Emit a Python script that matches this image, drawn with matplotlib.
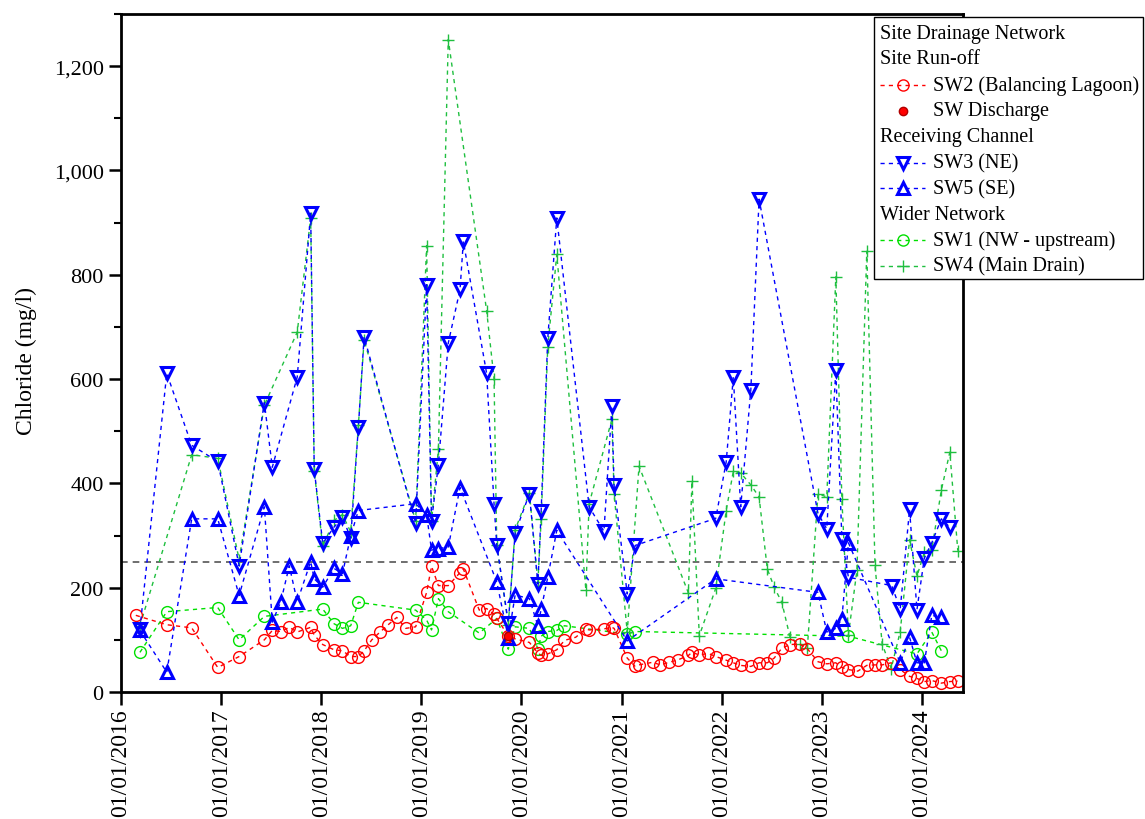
import matplotlib
matplotlib.use("Agg")
import matplotlib.pyplot as plt
import matplotlib.dates as mdates
import matplotlib.ticker as mticker
from matplotlib.lines import Line2D
from matplotlib.patches import Rectangle
import pandas as pd

plt.rcParams['font.family'] = ['Liberation Serif', 'DejaVu Serif']

# SW2 (Balancing Lagoon)
sw2_dates = ['2016-02-24', '2016-06-16', '2016-09-15', '2016-12-19', '2017-03-07', '2017-06-07',
             '2017-07-06', '2017-08-06', '2017-09-06', '2017-10-05', '2017-11-23', '2017-12-06',
             '2018-01-06', '2018-02-16', '2018-03-19', '2018-04-18', '2018-05-16', '2018-06-06',
             '2018-07-04', '2018-08-03', '2018-09-02', '2018-10-03', '2018-11-05', '2018-12-11',
             '2019-01-20', '2019-02-07', '2019-03-04', '2019-04-09', '2019-05-22', '2019-06-03',
             '2019-07-31', '2019-08-27', '2019-09-23', '2019-10-03', '2019-11-14', '2019-12-09',
             '2020-01-30', '2020-03-01', '2020-03-13', '2020-04-06', '2020-05-09', '2020-06-06',
             '2020-07-17', '2020-08-23', '2020-09-04', '2020-10-28', '2020-11-26', '2020-12-04',
             '2021-01-21', '2021-02-19', '2021-03-05', '2021-04-24', '2021-05-21', '2021-06-24',
             '2021-07-27', '2021-09-01', '2021-09-14', '2021-10-11', '2021-11-13', '2021-12-10',
             '2022-01-17', '2022-02-12', '2022-03-11', '2022-04-17', '2022-05-17', '2022-06-16',
             '2022-07-11', '2022-08-08', '2022-09-07', '2022-10-12', '2022-11-09', '2022-12-18',
             '2023-01-19', '2023-02-21', '2023-03-15', '2023-04-08', '2023-05-12', '2023-06-14',
             '2023-07-14', '2023-08-09', '2023-09-11', '2023-10-14', '2023-11-17', '2023-12-14',
             '2024-01-10', '2024-02-06', '2024-03-12', '2024-04-12', '2024-05-11']
sw2_vals = [147, 129, 123, 47, 68, 100,
            118, 116, 124, 115, 124, 109,
            91, 81, 79, 68, 68, 79,
            100, 115, 129, 143, 122, 125,
            191, 241, 204, 204, 229, 236,
            157, 160, 149, 141, 108, 102,
            95, 75, 70, 73, 81, 99,
            105, 121, 119, 121, 124, 122,
            65, 49, 52, 57, 52, 57,
            62, 70, 76, 71, 74, 68,
            61, 56, 51, 49, 56, 56,
            65, 84, 91, 92, 83, 58,
            54, 56, 47, 43, 40, 51,
            52, 52, 56, 43, 30, 26,
            20, 22, 17, 20, 21]

# SW Discharge
dis_dates = ['2019-11-14']
dis_vals = [108]

# SW3 (NE)
sw3_dates = ['2016-03-10', '2016-06-16', '2016-09-15', '2016-12-19', '2017-03-07', '2017-06-07',
             '2017-07-06', '2017-10-05', '2017-11-23', '2017-12-06', '2018-01-06', '2018-02-16',
             '2018-03-19', '2018-04-18', '2018-05-16', '2018-06-06', '2018-12-11', '2019-01-20',
             '2019-02-07', '2019-03-04', '2019-04-09', '2019-05-22', '2019-06-03', '2019-08-27',
             '2019-09-23', '2019-10-03', '2019-11-14', '2019-12-09', '2020-01-30', '2020-03-01',
             '2020-03-13', '2020-04-06', '2020-05-09', '2020-09-04', '2020-10-28', '2020-11-26',
             '2020-12-04', '2021-01-21', '2021-02-19', '2021-12-10', '2022-01-17', '2022-02-12',
             '2022-03-11', '2022-04-17', '2022-05-17', '2022-12-18', '2023-01-19', '2023-02-21',
             '2023-03-15', '2023-04-08', '2023-09-13', '2023-10-14', '2023-11-17', '2023-12-14',
             '2024-01-10', '2024-02-06', '2024-03-12', '2024-04-12']
sw3_vals = [121, 611, 473, 442, 242, 555,
            431, 604, 918, 427, 285, 316,
            335, 295, 508, 681, 324, 781,
            328, 436, 669, 772, 864, 611,
            361, 282, 133, 305, 380, 207,
            348, 678, 909, 355, 308, 548,
            396, 188, 281, 333, 441, 604,
            355, 580, 945, 342, 313, 617,
            294, 220, 204, 159, 350, 158,
            257, 286, 332, 316]

# SW5 (SE)
sw5_dates = ['2016-03-10', '2016-06-16', '2016-09-15', '2016-12-19', '2017-03-07', '2017-06-07',
             '2017-07-06', '2017-08-06', '2017-09-06', '2017-10-05', '2017-11-23', '2017-12-06',
             '2018-01-06', '2018-02-16', '2018-03-19', '2018-04-18', '2018-05-16', '2018-12-11',
             '2019-01-20', '2019-02-07', '2019-03-04', '2019-04-09', '2019-05-22', '2019-10-03',
             '2019-11-14', '2019-12-09', '2020-01-30', '2020-03-01', '2020-03-13', '2020-04-06',
             '2020-05-09', '2021-01-21', '2021-12-10', '2022-12-18', '2023-01-19', '2023-02-21',
             '2023-03-15', '2023-04-08', '2023-10-14', '2023-11-17', '2023-12-14', '2024-01-10',
             '2024-02-06', '2024-03-12']
sw5_vals = [118, 38, 332, 332, 185, 355,
            134, 173, 242, 173, 250, 217,
            201, 237, 227, 299, 348, 361,
            340, 272, 275, 278, 392, 211,
            104, 186, 179, 127, 159, 220,
            310, 98, 217, 191, 115, 122,
            140, 286, 56, 105, 56, 56,
            147, 143]

# SW1 (NW - upstream)
sw1_dates = ['2016-03-10', '2016-06-16', '2016-12-19', '2017-03-07', '2017-06-07', '2018-01-06',
             '2018-02-16', '2018-03-19', '2018-04-18', '2018-05-16', '2018-12-11', '2019-01-20',
             '2019-02-07', '2019-03-04', '2019-04-09', '2019-07-31', '2019-10-03', '2019-11-14',
             '2019-12-09', '2020-01-30', '2020-03-01', '2020-03-13', '2020-04-06', '2020-05-09',
             '2020-06-06', '2021-01-21', '2021-02-19', '2023-04-08', '2023-12-14', '2024-02-06',
             '2024-03-12']
sw1_vals = [76, 154, 162, 100, 145, 159,
            131, 122, 127, 172, 157, 138,
            119, 179, 154, 113, 141, 82,
            125, 122, 83, 107, 116, 118,
            127, 111, 116, 107, 73, 115,
            79]

# SW4 (Main Drain)
sw4_dates = ['2016-03-10', '2016-09-15', '2016-12-19', '2017-03-07', '2017-06-07', '2017-10-05',
             '2017-11-23', '2017-12-06', '2018-01-06', '2018-02-16', '2018-03-19', '2018-04-18',
             '2018-05-16', '2018-06-06', '2018-12-11', '2019-01-20', '2019-02-07', '2019-03-04',
             '2019-04-09', '2019-08-27', '2019-09-23', '2019-10-03', '2019-11-14', '2019-12-09',
             '2020-01-30', '2020-03-01', '2020-03-13', '2020-04-06', '2020-05-09', '2020-08-23',
             '2020-09-04', '2020-11-26', '2020-12-04', '2021-01-21', '2021-03-05', '2021-09-01',
             '2021-09-14', '2021-10-11', '2021-12-10', '2022-01-17', '2022-02-12', '2022-03-11',
             '2022-04-17', '2022-05-17', '2022-06-16', '2022-07-11', '2022-08-08', '2022-09-07',
             '2022-10-12', '2022-11-09', '2022-12-18', '2023-01-19', '2023-02-21', '2023-03-15',
             '2023-04-08', '2023-05-09', '2023-06-14', '2023-07-14', '2023-08-09', '2023-09-11',
             '2023-10-14', '2023-11-17', '2023-12-14', '2024-01-10', '2024-02-06', '2024-03-12',
             '2024-04-12', '2024-05-11']
sw4_vals = [127, 455, 448, 254, 550, 690,
            909, 424, 279, 329, 340, 307,
            511, 675, 328, 856, 328, 465,
            1251, 731, 601, 282, 129, 311,
            382, 210, 331, 662, 839, 196,
            361, 523, 380, 115, 433, 190,
            404, 108, 199, 348, 423, 420,
            397, 374, 236, 201, 172, 105,
            92, 84, 380, 374, 796, 371,
            110, 233, 845, 243, 92, 45,
            116, 292, 222, 268, 273, 387,
            460, 271]

guideline = 250
year_ticks = [f'{y}-01-01' for y in range(2016, 2025)]

RED = '#ff0000'
BLUE = '#0000ff'
GREEN1 = '#00e000'
GREEN4 = '#1fbf3f'

W, H = 1145, 820
fig = plt.figure(figsize=(W / 100, H / 100), dpi=100)
ax = fig.add_axes([121 / W, 1 - 693 / H, (963 - 121) / W, (693 - 15) / H])

dash = (0, (3, 3))
common = dict(linestyle=dash, linewidth=1.0)

ax.plot(pd.to_datetime(sw1_dates), sw1_vals, color=GREEN1, marker='o', ms=8.5,
        mfc='none', mec=GREEN1, mew=1.0, **common)
ax.plot(pd.to_datetime(sw4_dates), sw4_vals, color=GREEN4, marker='+', ms=8,
        mec=GREEN4, mew=1.0, **common)
ax.plot(pd.to_datetime(sw2_dates), sw2_vals, color=RED, marker='o', ms=8.5,
        mfc='none', mec=RED, mew=1.0, **common)
ax.plot(pd.to_datetime(sw5_dates), sw5_vals, color=BLUE, marker='^', ms=8.5,
        mfc='none', mec=BLUE, mew=2.2, **common)
ax.plot(pd.to_datetime(sw3_dates), sw3_vals, color=BLUE, marker='v', ms=8.5,
        mfc='none', mec=BLUE, mew=2.2, **common)
ax.plot(pd.to_datetime(dis_dates), dis_vals, linestyle='none', marker='o', ms=6,
        color=RED, mec='#b00000')

ax.axhline(guideline, color='#555555', linestyle=(0, (4, 3)), linewidth=1.2, zorder=1)

ax.set_xlim(pd.Timestamp('2016-01-01'), pd.Timestamp('2024-05-30'))
ax.set_ylim(0, 1300)
ax.set_xticks(pd.to_datetime(year_ticks))
ax.xaxis.set_major_formatter(mdates.DateFormatter('%d/%m/%Y'))
ax.yaxis.set_major_locator(mticker.MultipleLocator(200))
ax.yaxis.set_minor_locator(mticker.MultipleLocator(100))
ax.yaxis.set_major_formatter(mticker.FuncFormatter(lambda v, p: f'{v:,.0f}'))

for s in ax.spines.values():
    s.set_linewidth(2)
ax.tick_params(axis='both', which='major', direction='out', length=9, width=1.8,
               labelsize=16, top=False, right=False)
ax.tick_params(axis='x', which='major', labelsize=17, pad=3)
ax.tick_params(axis='y', which='minor', direction='out', length=5, width=1.5, right=False)
plt.setp(ax.get_xticklabels(), rotation=90)
ax.set_ylabel('Chloride (mg/l)', fontsize=17)
ax.yaxis.set_label_coords(-0.1, 0.49)

# legend box drawn by hand so the group headers sit flush left
def fx(px):
    return px / W

def fy(py):
    return 1 - py / H

fig.add_artist(Rectangle((fx(874), fy(280)), fx(1143) - fx(874), fy(18) - fy(280),
                         transform=fig.transFigure, facecolor='white',
                         edgecolor='black', linewidth=1.0, zorder=10))

rows = [
    ('Site Drainage Network', None),
    ('Site Run-off', None),
    ('SW2 (Balancing Lagoon)', dict(color=RED, marker='o', mfc='none', mec=RED, ls=dash)),
    ('SW Discharge', dict(color=RED, marker='o', mfc=RED, mec='#b00000', ls='none', ms=6)),
    ('Receiving Channel', None),
    ('SW3 (NE)', dict(color=BLUE, marker='v', mfc='none', mec=BLUE, mew=2.2, ls=dash)),
    ('SW5 (SE)', dict(color=BLUE, marker='^', mfc='none', mec=BLUE, mew=2.2, ls=dash)),
    ('Wider Network', None),
    ('SW1 (NW - upstream)', dict(color=GREEN1, marker='o', mfc='none', mec=GREEN1, ls=dash)),
    ('SW4 (Main Drain)', dict(color=GREEN4, marker='+', mec=GREEN4, ls=dash)),
]
row_y = 34
for label, style in rows:
    if style is None:
        fig.text(fx(880), fy(row_y), label, fontsize=14.5, va='center', ha='left', zorder=11)
    else:
        st = dict(lw=1.0, ms=8)
        st.update(style)
        ls = st.pop('ls')
        if ls != 'none':
            fig.add_artist(Line2D([fx(880), fx(925)], [fy(row_y)] * 2, transform=fig.transFigure,
                                  color=st['color'], lw=1.0, linestyle=ls, zorder=11))
        fig.add_artist(Line2D([fx(903)], [fy(row_y)], transform=fig.transFigure,
                              linestyle='none', zorder=12, **st))
        fig.text(fx(933), fy(row_y), label, fontsize=14.5, va='center', ha='left', zorder=11)
    row_y += 25.9

fig.savefig('out.png', dpi=100)
